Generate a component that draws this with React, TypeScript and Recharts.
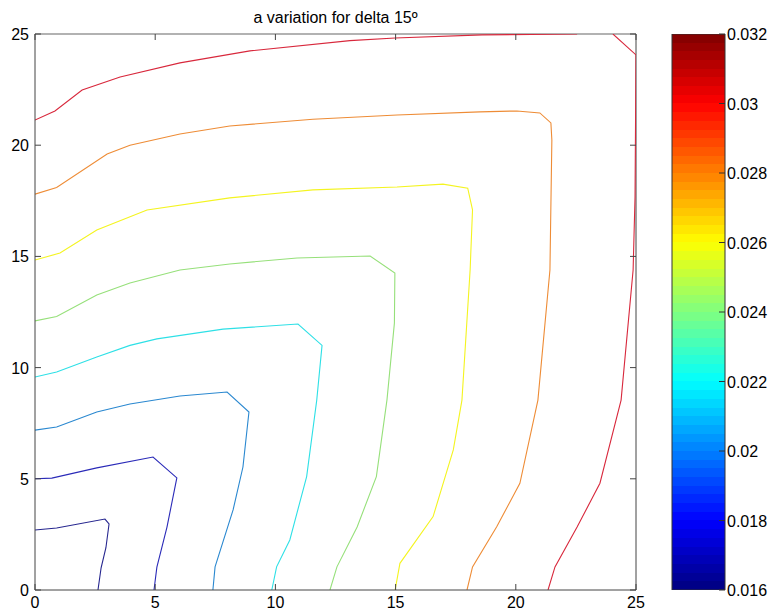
import React from 'react';
import { LineChart, Line, XAxis, YAxis, BarChart, Bar, ReferenceLine } from 'recharts';

const FONT = '"Liberation Sans", Arial, Helvetica, sans-serif';

const title = 'a variation for delta 15º';
const xTicks = [0, 5, 10, 15, 20, 25];
const yTicks = [0, 5, 10, 15, 20, 25];
const colorbarTicks = [0.016, 0.018, 0.02, 0.022, 0.024, 0.026, 0.028, 0.03, 0.032];
const colorbarLabels = ['0.016', '0.018', '0.02', '0.022', '0.024', '0.026', '0.028', '0.03', '0.032'];
const colorbarData = [{ name: 'a', range: [0.016, 0.032] }];

// contour lines (x, y)
const level017 = [
  { x: 0, y: 2.7 }, { x: 0.9, y: 2.79 }, { x: 2.91, y: 3.19 }, { x: 3.08, y: 2.97 },
  { x: 2.95, y: 1.9 }, { x: 2.75, y: 1.0 }, { x: 2.62, y: 0 },
];
const level019 = [
  { x: 0, y: 5.0 }, { x: 0.7, y: 5.03 }, { x: 2.57, y: 5.49 }, { x: 4.91, y: 5.98 },
  { x: 5.9, y: 5.04 }, { x: 5.49, y: 2.83 }, { x: 5.07, y: 1.03 }, { x: 4.95, y: 0 },
];
const level021 = [
  { x: 0, y: 7.19 }, { x: 0.9, y: 7.33 }, { x: 2.57, y: 8.0 }, { x: 3.95, y: 8.36 },
  { x: 6.03, y: 8.72 }, { x: 7.99, y: 8.9 }, { x: 8.9, y: 8.0 }, { x: 8.65, y: 5.53 },
  { x: 8.24, y: 3.6 }, { x: 7.49, y: 1.04 }, { x: 7.4, y: 0 },
];
const level022 = [
  { x: 0, y: 9.58 }, { x: 0.9, y: 9.8 }, { x: 2.57, y: 10.48 }, { x: 3.95, y: 11.0 },
  { x: 5.07, y: 11.29 }, { x: 7.82, y: 11.73 }, { x: 10.94, y: 11.96 }, { x: 11.94, y: 11.0 },
  { x: 11.72, y: 8.54 }, { x: 11.3, y: 5.1 }, { x: 10.6, y: 2.25 }, { x: 10.05, y: 1.04 },
  { x: 9.85, y: 0 },
];
const level024 = [
  { x: 0, y: 12.1 }, { x: 0.9, y: 12.3 }, { x: 2.57, y: 13.26 }, { x: 3.95, y: 13.8 },
  { x: 6.03, y: 14.39 }, { x: 8.1, y: 14.66 }, { x: 10.9, y: 14.93 }, { x: 13.94, y: 15.02 },
  { x: 14.97, y: 14.25 }, { x: 14.95, y: 12.0 }, { x: 14.64, y: 8.54 }, { x: 14.2, y: 5.1 },
  { x: 13.4, y: 2.83 }, { x: 12.56, y: 1.04 }, { x: 12.27, y: 0 },
];
const level026 = [
  { x: 0, y: 14.84 }, { x: 1.04, y: 15.15 }, { x: 2.57, y: 16.19 }, { x: 4.66, y: 17.09 },
  { x: 8.1, y: 17.63 }, { x: 11.56, y: 17.99 }, { x: 15.06, y: 18.12 }, { x: 16.97, y: 18.25 },
  { x: 18.0, y: 18.07 }, { x: 18.2, y: 17.09 }, { x: 18.1, y: 14.39 }, { x: 17.76, y: 8.54 },
  { x: 17.4, y: 6.3 }, { x: 16.56, y: 3.3 }, { x: 15.18, y: 1.2 }, { x: 14.98, y: 0 },
];
const level028 = [
  { x: 0, y: 17.8 }, { x: 0.9, y: 18.1 }, { x: 3.0, y: 19.6 }, { x: 3.95, y: 20.0 },
  { x: 6.03, y: 20.5 }, { x: 8.1, y: 20.86 }, { x: 11.56, y: 21.17 }, { x: 15.06, y: 21.36 },
  { x: 18.5, y: 21.5 }, { x: 20.05, y: 21.54 }, { x: 21.0, y: 21.45 }, { x: 21.46, y: 21.0 },
  { x: 21.5, y: 20.23 }, { x: 21.42, y: 14.39 }, { x: 20.92, y: 8.54 }, { x: 20.17, y: 4.8 },
  { x: 19.2, y: 2.83 }, { x: 18.2, y: 1.04 }, { x: 17.97, y: 0 },
];
const level030a = [
  { x: 0, y: 21.13 }, { x: 0.83, y: 21.54 }, { x: 1.96, y: 22.48 }, { x: 3.54, y: 23.07 },
  { x: 6.03, y: 23.7 }, { x: 8.94, y: 24.24 }, { x: 13.1, y: 24.7 }, { x: 14.98, y: 24.82 },
  { x: 18.6, y: 24.96 }, { x: 22.55, y: 25 },
];
const level030b = [
  { x: 24.04, y: 25 }, { x: 25, y: 24.06 }, { x: 24.96, y: 17.67 }, { x: 24.88, y: 14.39 },
  { x: 24.38, y: 8.54 }, { x: 23.5, y: 4.8 }, { x: 22.55, y: 2.83 }, { x: 21.63, y: 1.04 },
  { x: 21.34, y: 0 },
];

const contours = [
  { key: 'l017', data: level017, color: '#26268f' },
  { key: 'l019', data: level019, color: '#2a2ab8' },
  { key: 'l021', data: level021, color: '#2a88d0' },
  { key: 'l022', data: level022, color: '#2ee0e6' },
  { key: 'l024', data: level024, color: '#96e07a' },
  { key: 'l026', data: level026, color: '#f4f420' },
  { key: 'l028', data: level028, color: '#ee8c36' },
  { key: 'l030a', data: level030a, color: '#d8283c' },
  { key: 'l030b', data: level030b, color: '#d8283c' },
];

const jet = (t: number) => {
  const c = (v: number) => Math.round(255 * Math.max(0, Math.min(1, v)));
  return `rgb(${c(1.5 - Math.abs(4 * t - 3))},${c(1.5 - Math.abs(4 * t - 2))},${c(1.5 - Math.abs(4 * t - 1))})`;
};
const jetStops: { off: number; color: string }[] = [];
for (let i = 0; i < 64; i++) {
  const col = jet((i + 0.5) / 64);
  jetStops.push({ off: i / 64, color: col });
  jetStops.push({ off: (i + 1) / 64, color: col });
}

const AX = '#444';
const PLOT_W = 601;
const PLOT_H = 556;

const BottomTick = (p: any) => (
  <g>
    <line x1={p.x} y1={p.y} x2={p.x} y2={p.y - 6} stroke={AX} />
    <line x1={p.x} y1={p.y - PLOT_H} x2={p.x} y2={p.y - PLOT_H + 6} stroke={AX} />
    <text x={p.x} y={p.y + 18} textAnchor="middle" fontSize={16} fontFamily={FONT} fill="#000">
      {p.payload.value}
    </text>
  </g>
);
const LeftTick = (p: any) => (
  <g>
    <line x1={p.x} y1={p.y} x2={p.x + 6} y2={p.y} stroke={AX} />
    <line x1={p.x + PLOT_W} y1={p.y} x2={p.x + PLOT_W - 6} y2={p.y} stroke={AX} />
    <text x={p.x - 6} y={p.y + 6} textAnchor="end" fontSize={16} fontFamily={FONT} fill="#000">
      {p.payload.value}
    </text>
  </g>
);
const CbRightTick = (p: any) => (
  <g>
    <line x1={p.x} y1={p.y} x2={p.x - 6} y2={p.y} stroke="#333" />
    <text x={p.x + 2} y={p.y + 6} textAnchor="start" fontSize={16} fontFamily={FONT} fill="#000">
      {colorbarLabels[p.index]}
    </text>
  </g>
);
const CbLeftTick = (p: any) => <line x1={p.x} y1={p.y} x2={p.x + 6} y2={p.y} stroke="#333" />;

export default function App() {
  return (
    <div style={{ position: 'absolute', left: 0, top: 0, width: 774, height: 614, background: '#fff', fontFamily: FONT }}>
      <div
        style={{
          position: 'absolute', left: 35, top: 8, width: 601, textAlign: 'center',
          fontSize: 16, lineHeight: '20px', color: '#000',
        }}
      >
        {title}
      </div>
      <div style={{ position: 'absolute', left: 0, top: 0 }}>
        <LineChart width={774} height={614} margin={{ top: 34, right: 138, bottom: 0, left: 0 }}>
          <XAxis
            type="number" dataKey="x" domain={[0, 25]} ticks={xTicks}
            height={24} tickSize={0} tickMargin={0} tick={<BottomTick />}
            axisLine={{ stroke: AX }} allowDataOverflow interval={0}
          />
          <YAxis
            type="number" domain={[0, 25]} ticks={yTicks}
            width={35} tickSize={0} tickMargin={0} tick={<LeftTick />}
            axisLine={{ stroke: AX }} allowDataOverflow interval={0}
          />
          <ReferenceLine y={25} stroke="#999" strokeWidth={1.5} ifOverflow="visible" />
          <ReferenceLine x={25} stroke={AX} ifOverflow="visible" />
          {contours.map((c) => (
            <Line
              key={c.key}
              data={c.data}
              dataKey="y"
              type="linear"
              stroke={c.color}
              strokeWidth={1.1}
              dot={false}
              activeDot={false}
              isAnimationActive={false}
            />
          ))}
        </LineChart>
      </div>
      <div style={{ position: 'absolute', left: 0, top: 0 }}>
        <BarChart
          width={774} height={614} data={colorbarData}
          margin={{ top: 34, right: 0, bottom: 24, left: 672 }} barCategoryGap={0}
        >
          <defs>
            <linearGradient id="jetGrad" x1="0" y1="1" x2="0" y2="0">
              {jetStops.map((s, i) => (
                <stop key={i} offset={s.off} stopColor={s.color} />
              ))}
            </linearGradient>
          </defs>
          <XAxis dataKey="name" hide />
          <YAxis
            yAxisId="cr" orientation="right" type="number" domain={[0.016, 0.032]} ticks={colorbarTicks}
            width={49} tickSize={0} tickMargin={0} tick={<CbRightTick />}
            axisLine={false} allowDataOverflow interval={0}
          />
          <YAxis
            yAxisId="cl" orientation="left" type="number" domain={[0.016, 0.032]} ticks={colorbarTicks}
            width={0} tickSize={0} tickMargin={0} tick={<CbLeftTick />}
            axisLine={false} allowDataOverflow interval={0}
          />
          <Bar yAxisId="cr" dataKey="range" fill="url(#jetGrad)" stroke="#333" strokeWidth={1} isAnimationActive={false} />
        </BarChart>
      </div>
    </div>
  );
}
